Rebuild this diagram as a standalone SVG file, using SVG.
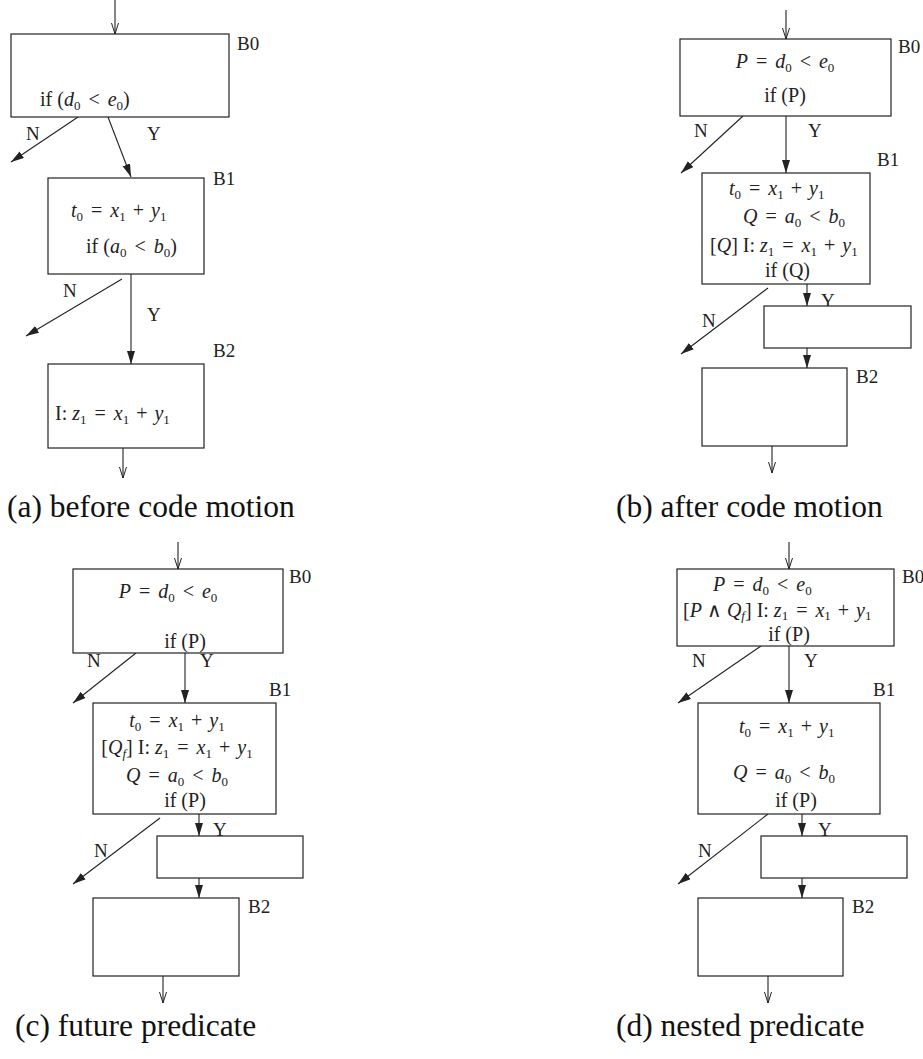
<svg xmlns="http://www.w3.org/2000/svg" width="923" height="1059" viewBox="0 0 923 1059">
<style>
.t{font-family:"Liberation Serif",serif;font-size:20px;fill:#222}
.i{font-style:italic}
.s{font-size:13px}
.lb{font-family:"Liberation Serif",serif;font-size:19px;fill:#222}
.cap{font-family:"Liberation Serif",serif;font-size:31.5px;fill:#111}
.box{fill:#fff;stroke:#222;stroke-width:1.2}
.c{stroke:#222;stroke-width:1.1;fill:none}
.f{marker-end:url(#fa)}
.o{marker-end:url(#oa)}
</style>
<defs>
<marker id="fa" markerUnits="userSpaceOnUse" markerWidth="14" markerHeight="9" refX="13" refY="4" orient="auto"><path d="M0,0 L13,4 L0,8 Z" fill="#222"/></marker>
<marker id="oa" markerUnits="userSpaceOnUse" markerWidth="12" markerHeight="9" refX="11" refY="4" orient="auto"><path d="M0,0.5 L11,4 L0,7.5" fill="none" stroke="#222" stroke-width="1"/></marker>
</defs>
<rect width="923" height="1059" fill="#fff"/>

<g id="connectors">
<line class="c o" x1="115" y1="0" x2="115" y2="34"/>
<line class="c f" x1="78" y1="117" x2="11" y2="162"/>
<line class="c f" x1="108" y1="117" x2="131" y2="177"/>
<line class="c f" x1="122" y1="279" x2="26" y2="336"/>
<line class="c f" x1="131" y1="274" x2="131" y2="364"/>
<line class="c o" x1="123" y1="448" x2="123" y2="478"/>
<line class="c o" x1="786" y1="10" x2="786" y2="39"/>
<line class="c f" x1="743" y1="116" x2="681" y2="173"/>
<line class="c f" x1="786" y1="116" x2="786" y2="173"/>
<line class="c f" x1="768" y1="288" x2="681" y2="354"/>
<line class="c f" x1="807" y1="284" x2="807" y2="306"/>
<line class="c f" x1="807" y1="348" x2="807" y2="368"/>
<line class="c o" x1="772" y1="446" x2="772" y2="473"/>
<line class="c o" x1="178" y1="542" x2="178" y2="569"/>
<line class="c f" x1="136" y1="653" x2="73" y2="703"/>
<line class="c f" x1="185" y1="653" x2="185" y2="703"/>
<line class="c f" x1="160" y1="818" x2="73" y2="884"/>
<line class="c f" x1="199" y1="814" x2="199" y2="836"/>
<line class="c f" x1="199" y1="878" x2="199" y2="898"/>
<line class="c o" x1="163" y1="976" x2="163" y2="1003"/>
<line class="c o" x1="789" y1="542" x2="789" y2="569"/>
<line class="c f" x1="761" y1="646" x2="678" y2="703"/>
<line class="c f" x1="789" y1="646" x2="789" y2="703"/>
<line class="c f" x1="768" y1="814" x2="678" y2="884"/>
<line class="c f" x1="802" y1="814" x2="802" y2="836"/>
<line class="c f" x1="802" y1="878" x2="802" y2="898"/>
<line class="c o" x1="768" y1="976" x2="768" y2="1003"/>
</g>

<g id="edge-labels">
<text class="lb" x="26" y="140">N</text><text class="lb" x="147" y="140">Y</text>
<text class="lb" x="63" y="297">N</text><text class="lb" x="147" y="321">Y</text>
<text class="lb" x="694" y="137">N</text><text class="lb" x="808" y="137">Y</text>
<text class="lb" x="702" y="327">N</text><text class="lb" x="821" y="307">Y</text>
<text class="lb" x="87" y="667">N</text><text class="lb" x="200" y="667">Y</text>
<text class="lb" x="94" y="857">N</text><text class="lb" x="213" y="836">Y</text>
<text class="lb" x="692" y="667">N</text><text class="lb" x="804" y="667">Y</text>
<text class="lb" x="698" y="857">N</text><text class="lb" x="818" y="836">Y</text>
</g>

<g id="a-B0">
<rect class="box" x="11" y="34" width="218" height="83"/>
<text class="lb" x="237" y="50">B0</text>
<text class="t" x="40" y="106">if (<tspan class="i">d</tspan><tspan class="s" dy="4">0</tspan><tspan dx="8" dy="-4">&lt;</tspan><tspan class="i" dx="8">e</tspan><tspan class="s" dy="4">0</tspan><tspan dy="-4">)</tspan></text>
</g>
<g id="a-B1">
<rect class="box" x="48" y="178" width="156" height="96"/>
<text class="lb" x="213" y="185">B1</text>
<text class="t" x="71" y="217"><tspan class="i">t</tspan><tspan class="s" dy="4">0</tspan><tspan dx="8" dy="-4">=</tspan><tspan class="i" dx="8">x</tspan><tspan class="s" dy="4">1</tspan><tspan dx="7" dy="-4">+</tspan><tspan class="i" dx="7">y</tspan><tspan class="s" dy="4">1</tspan></text>
<text class="t" x="86" y="253">if (<tspan class="i">a</tspan><tspan class="s" dy="4">0</tspan><tspan dx="8" dy="-4">&lt;</tspan><tspan class="i" dx="8">b</tspan><tspan class="s" dy="4">0</tspan><tspan dy="-4">)</tspan></text>
</g>
<g id="a-B2">
<rect class="box" x="48" y="364" width="156" height="84"/>
<text class="lb" x="213" y="357">B2</text>
<text class="t" x="55" y="420">I: <tspan class="i">z</tspan><tspan class="s" dy="4">1</tspan><tspan dx="8" dy="-4">=</tspan><tspan class="i" dx="8">x</tspan><tspan class="s" dy="4">1</tspan><tspan dx="7" dy="-4">+</tspan><tspan class="i" dx="7">y</tspan><tspan class="s" dy="4">1</tspan></text>
</g>
<text class="cap" x="7" y="517">(a) before code motion</text>

<g id="b-B0">
<rect class="box" x="680" y="39" width="211" height="77"/>
<text class="lb" x="898" y="53">B0</text>
<text class="t" x="785" y="68" text-anchor="middle"><tspan class="i">P</tspan><tspan dx="8">=</tspan><tspan class="i" dx="8">d</tspan><tspan class="s" dy="4">0</tspan><tspan dx="8" dy="-4">&lt;</tspan><tspan class="i" dx="8">e</tspan><tspan class="s" dy="4">0</tspan></text>
<text class="t" x="785" y="102" text-anchor="middle">if (P)</text>
</g>
<g id="b-B1">
<rect class="box" x="702" y="173" width="168" height="111"/>
<text class="lb" x="877" y="166">B1</text>
<text class="t" x="729" y="195"><tspan class="i">t</tspan><tspan class="s" dy="4">0</tspan><tspan dx="8" dy="-4">=</tspan><tspan class="i" dx="8">x</tspan><tspan class="s" dy="4">1</tspan><tspan dx="7" dy="-4">+</tspan><tspan class="i" dx="7">y</tspan><tspan class="s" dy="4">1</tspan></text>
<text class="t" x="743" y="223"><tspan class="i">Q</tspan><tspan dx="8">=</tspan><tspan class="i" dx="8">a</tspan><tspan class="s" dy="4">0</tspan><tspan dx="8" dy="-4">&lt;</tspan><tspan class="i" dx="8">b</tspan><tspan class="s" dy="4">0</tspan></text>
<text class="t" x="710" y="252">[<tspan class="i">Q</tspan>] I: <tspan class="i">z</tspan><tspan class="s" dy="4">1</tspan><tspan dx="8" dy="-4">=</tspan><tspan class="i" dx="8">x</tspan><tspan class="s" dy="4">1</tspan><tspan dx="7" dy="-4">+</tspan><tspan class="i" dx="7">y</tspan><tspan class="s" dy="4">1</tspan></text>
<text class="t" x="765" y="277">if (Q)</text>
</g>
<g id="b-mid">
<rect class="box" x="764" y="306" width="147" height="42"/>
</g>
<g id="b-B2">
<rect class="box" x="702" y="368" width="145" height="78"/>
<text class="lb" x="856" y="383">B2</text>
</g>
<text class="cap" x="616" y="517">(b) after code motion</text>

<g id="c-B0">
<rect class="box" x="73" y="569" width="210" height="84"/>
<text class="lb" x="289" y="583">B0</text>
<text class="t" x="168" y="598" text-anchor="middle"><tspan class="i">P</tspan><tspan dx="8">=</tspan><tspan class="i" dx="8">d</tspan><tspan class="s" dy="4">0</tspan><tspan dx="8" dy="-4">&lt;</tspan><tspan class="i" dx="8">e</tspan><tspan class="s" dy="4">0</tspan></text>
<text class="t" x="185" y="648" text-anchor="middle">if (P)</text>
</g>
<g id="c-B1">
<rect class="box" x="93" y="703" width="183" height="111"/>
<text class="lb" x="269" y="696">B1</text>
<text class="t" x="177" y="727" text-anchor="middle"><tspan class="i">t</tspan><tspan class="s" dy="4">0</tspan><tspan dx="8" dy="-4">=</tspan><tspan class="i" dx="8">x</tspan><tspan class="s" dy="4">1</tspan><tspan dx="7" dy="-4">+</tspan><tspan class="i" dx="7">y</tspan><tspan class="s" dy="4">1</tspan></text>
<text class="t" x="177" y="754" text-anchor="middle">[<tspan class="i">Q</tspan><tspan class="s i" dy="4">f</tspan><tspan dy="-4">] I: </tspan><tspan class="i">z</tspan><tspan class="s" dy="4">1</tspan><tspan dx="8" dy="-4">=</tspan><tspan class="i" dx="8">x</tspan><tspan class="s" dy="4">1</tspan><tspan dx="7" dy="-4">+</tspan><tspan class="i" dx="7">y</tspan><tspan class="s" dy="4">1</tspan></text>
<text class="t" x="177" y="782" text-anchor="middle"><tspan class="i">Q</tspan><tspan dx="8">=</tspan><tspan class="i" dx="8">a</tspan><tspan class="s" dy="4">0</tspan><tspan dx="8" dy="-4">&lt;</tspan><tspan class="i" dx="8">b</tspan><tspan class="s" dy="4">0</tspan></text>
<text class="t" x="185" y="807" text-anchor="middle">if (P)</text>
</g>
<g id="c-mid">
<rect class="box" x="157" y="836" width="146" height="42"/>
</g>
<g id="c-B2">
<rect class="box" x="93" y="898" width="146" height="78"/>
<text class="lb" x="248" y="913">B2</text>
</g>
<text class="cap" x="15" y="1036">(c) future predicate</text>

<g id="d-B0">
<rect class="box" x="677" y="569" width="217" height="77"/>
<text class="lb" x="902" y="583">B0</text>
<text class="t" x="713" y="591"><tspan class="i">P</tspan><tspan dx="8">=</tspan><tspan class="i" dx="8">d</tspan><tspan class="s" dy="4">0</tspan><tspan dx="8" dy="-4">&lt;</tspan><tspan class="i" dx="8">e</tspan><tspan class="s" dy="4">0</tspan></text>
<text class="t" x="683" y="617">[<tspan class="i">P</tspan><tspan dx="5">∧</tspan><tspan class="i" dx="5">Q</tspan><tspan class="s i" dy="3">f</tspan><tspan dy="-3">] I: </tspan><tspan class="i">z</tspan><tspan class="s" dy="3">1</tspan><tspan dx="8" dy="-3">=</tspan><tspan class="i" dx="8">x</tspan><tspan class="s" dy="3">1</tspan><tspan dx="7" dy="-3">+</tspan><tspan class="i" dx="7">y</tspan><tspan class="s" dy="3">1</tspan></text>
<text class="t" x="789" y="641" text-anchor="middle">if (P)</text>
</g>
<g id="d-B1">
<rect class="box" x="698" y="703" width="182" height="111"/>
<text class="lb" x="873" y="696">B1</text>
<text class="t" x="739" y="733"><tspan class="i">t</tspan><tspan class="s" dy="4">0</tspan><tspan dx="8" dy="-4">=</tspan><tspan class="i" dx="8">x</tspan><tspan class="s" dy="4">1</tspan><tspan dx="7" dy="-4">+</tspan><tspan class="i" dx="7">y</tspan><tspan class="s" dy="4">1</tspan></text>
<text class="t" x="733" y="779"><tspan class="i">Q</tspan><tspan dx="8">=</tspan><tspan class="i" dx="8">a</tspan><tspan class="s" dy="4">0</tspan><tspan dx="8" dy="-4">&lt;</tspan><tspan class="i" dx="8">b</tspan><tspan class="s" dy="4">0</tspan></text>
<text class="t" x="796" y="807" text-anchor="middle">if (P)</text>
</g>
<g id="d-mid">
<rect class="box" x="761" y="836" width="146" height="42"/>
</g>
<g id="d-B2">
<rect class="box" x="698" y="898" width="145" height="78"/>
<text class="lb" x="852" y="913">B2</text>
</g>
<text class="cap" x="616" y="1036">(d) nested predicate</text>
</svg>
